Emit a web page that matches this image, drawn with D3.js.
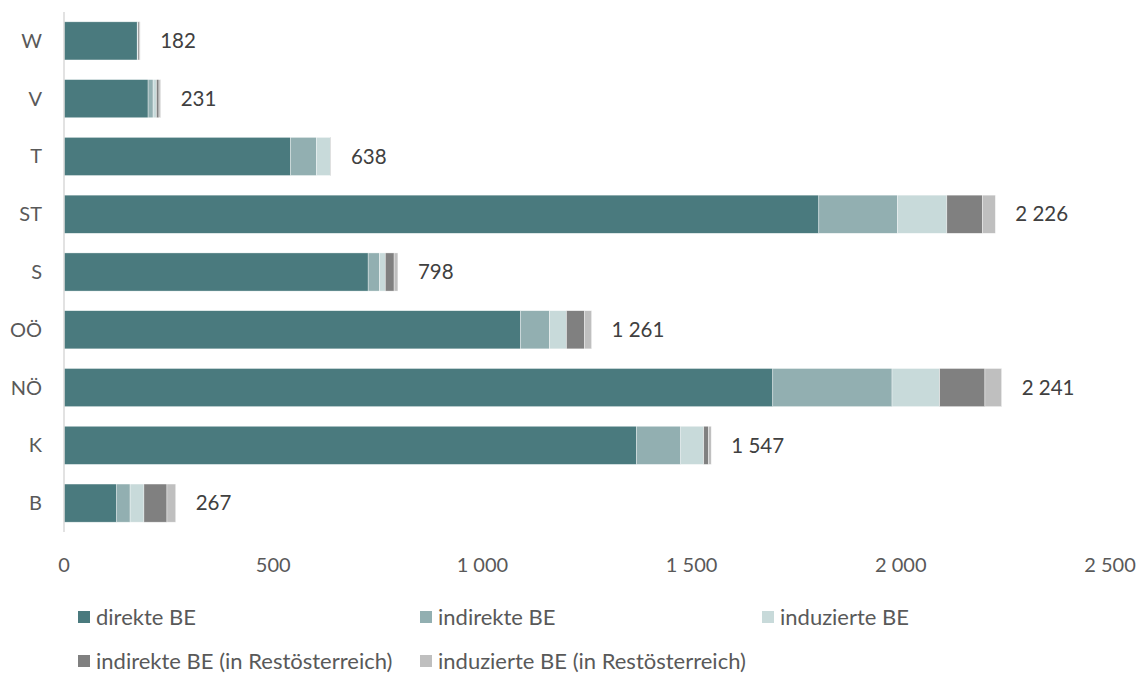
<!DOCTYPE html>
<html>
<head>
<meta charset="utf-8">
<script src="https://cdn.jsdelivr.net/npm/d3@7"></script>
<style>
    html, body { margin: 0; padding: 0; background: white; }
    #chart-container { width: 1143px; height: 673px; }
</style>
</head>
<body>
<div id="chart-container"></div>
<script>
// Bundesländer (von oben nach unten)
const categories = ["W", "V", "T", "ST", "S", "OÖ", "NÖ", "K", "B"];

// Werte je Serie
const direkteBE = [175, 201, 541, 1804, 727, 1091, 1694, 1368, 126];
const indirekteBE = [1, 12, 62, 188, 27, 69, 285, 106, 32];
const induzierteBE = [1, 8, 34, 118, 14, 41, 114, 55, 33];
const indirekteRest = [4, 6, 1, 85, 21, 43, 108, 11, 55];
const induzierteRest = [1, 4, 0, 31, 9, 17, 40, 7, 21];
const totals = [182, 231, 638, 2226, 798, 1261, 2241, 1547, 267];

const seriesNames = ["direkte BE", "indirekte BE", "induzierte BE",
    "indirekte BE (in Restösterreich)", "induzierte BE (in Restösterreich)"];
const xTicks = [0, 500, 1000, 1500, 2000, 2500];

{
    let width = 1143;
    let height = 673;
    let colors = ["#4a7a7e", "#92afb1", "#c8dada", "#808080", "#bfbfbf"];

    // Tabelle für d3.stack bauen
    let keys = ["d", "i", "u", "ir", "ur"];
    let table = categories.map((c, i) => ({
        cat: c,
        d: direkteBE[i],
        i: indirekteBE[i],
        u: induzierteBE[i],
        ir: indirekteRest[i],
        ur: induzierteRest[i],
        total: totals[i]
    }));
    let stacked = d3.stack().keys(keys)(table);

    let x = d3.scaleLinear().domain([0, 2500]).range([64, 1110]);
    let y = d3.scaleBand().domain(categories).range([12, 532])
        .paddingInner(0.34).paddingOuter(0.17);

    let locale = d3.formatLocale({ decimal: ",", thousands: " ", grouping: [3], currency: ["", "€"] });
    let fmt = locale.format(",d");

    let svg = d3.select("#chart-container")
        .append("svg")
        .attr("width", width)
        .attr("height", height)
        .style("font-family", "Lato, 'Open Sans', sans-serif");

    // Balken
    svg.append("g")
        .selectAll("g")
        .data(stacked)
        .join("g")
        .attr("fill", (d, i) => colors[i])
        .selectAll("rect")
        .data(d => d)
        .join("rect")
        .attr("x", d => x(d[0]))
        .attr("y", d => y(d.data.cat))
        .attr("width", d => Math.max(0, x(d[1]) - x(d[0])))
        .attr("height", y.bandwidth())
        .attr("stroke", "white")
        .attr("stroke-width", 0.6)
        .attr("stroke-opacity", 0.6);

    // y-Achse
    svg.append("line")
        .attr("x1", x(0)).attr("x2", x(0))
        .attr("y1", 12).attr("y2", 532)
        .attr("stroke", "#d9d9d9")
        .attr("stroke-width", 1.5);

    svg.append("g")
        .selectAll("text")
        .data(categories)
        .join("text")
        .attr("x", 42)
        .attr("y", d => y(d) + y.bandwidth() / 2)
        .attr("dy", "0.35em")
        .attr("text-anchor", "end")
        .attr("font-size", 20)
        .attr("fill", "#595959")
        .text(d => d);

    // x-Achse Beschriftung
    svg.append("g")
        .selectAll("text")
        .data(xTicks)
        .join("text")
        .attr("x", d => x(d))
        .attr("y", 565)
        .attr("dy", "0.35em")
        .attr("text-anchor", "middle")
        .attr("font-size", 20)
        .attr("fill", "#595959")
        .text(d => fmt(d));

    // Summen
    svg.append("g")
        .selectAll("text")
        .data(table)
        .join("text")
        .attr("x", d => x(d.total) + 20)
        .attr("y", d => y(d.cat) + y.bandwidth() / 2)
        .attr("dy", "0.35em")
        .attr("font-size", 20.5)
        .attr("fill", "#404040")
        .text(d => fmt(d.total));

    // Legende
    let legend = svg.append("g")
        .selectAll("g")
        .data(seriesNames)
        .join("g")
        .attr("transform", (d, i) => `translate(${78 + (i % 3) * 342},${617 + Math.floor(i / 3) * 44})`);

    legend.append("rect")
        .attr("x", 0)
        .attr("y", -6)
        .attr("width", 12)
        .attr("height", 12)
        .attr("fill", (d, i) => colors[i]);

    legend.append("text")
        .attr("x", 18)
        .attr("dy", "0.35em")
        .attr("font-size", 22)
        .attr("fill", "#595959")
        .text(d => d);
}
</script>
</body>
</html>
